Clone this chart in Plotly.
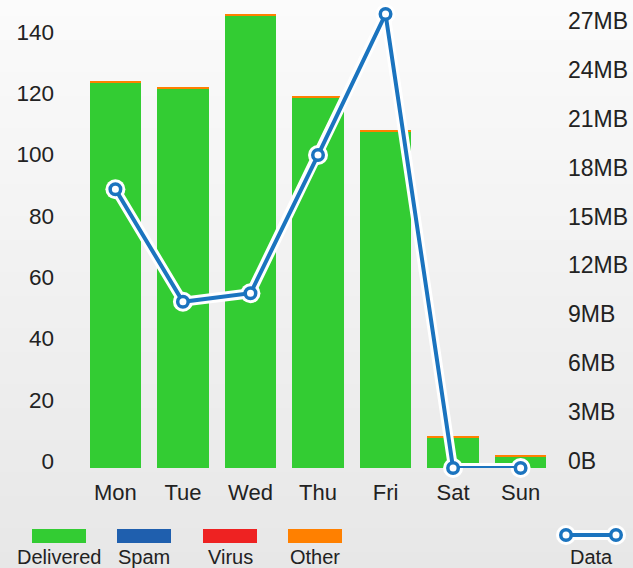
import plotly.graph_objects as go

days = ["Mon", "Tue", "Wed", "Thu", "Fri", "Sat", "Sun"]
delivered = [125.8, 123.8, 147.7, 120.9, 109.8, 10.0, 3.8]
spam = [0, 0, 0, 0, 0, 0, 0]
virus = [0, 0, 0, 0, 0, 0, 0]
other = [0.5, 0.5, 0.5, 0.5, 0.5, 0.5, 0.5]
data_mb = [17.1, 10.2, 10.72, 19.2, 27.85, 0, 0]

left_ticks = [0, 20, 40, 60, 80, 100, 120, 140]
right_ticks = [0, 3, 6, 9, 12, 15, 18, 21, 24, 27]
right_text = ["0B"] + [f"{v}MB" for v in right_ticks[1:]]

legend_names = ["Delivered", "Spam", "Virus", "Other"]
colors = ["#33cc33", "#1f5fae", "#ee2222", "#ff8000"]
line_color = "#1b74bf"

W, H = 633, 568
L, R, T, B = 79, 76, 5, 100
PW, PH = W - L - R, H - T - B


def px(x):
    return (x - L) / PW


def py(y):
    return (H - B - y) / PH


FONT = "Liberation Sans, Arial, sans-serif"
fig = go.Figure()

for name, vals, col in zip(legend_names, [delivered, spam, virus, other], colors):
    fig.add_trace(go.Bar(x=days, y=vals, name=name, marker=dict(color=col, line=dict(width=0)),
                         yaxis="y", showlegend=False))

# white halo
fig.add_trace(go.Scatter(x=days, y=data_mb, yaxis="y2", mode="lines+markers",
                         line=dict(color="white", width=10),
                         marker=dict(size=20, color="white", line=dict(width=0)),
                         cliponaxis=False, showlegend=False, hoverinfo="skip"))
fig.add_trace(go.Scatter(x=days, y=data_mb, yaxis="y2", mode="lines+markers", name="Data",
                         line=dict(color=line_color, width=4),
                         marker=dict(size=10.5, color="white", line=dict(width=3.5, color=line_color)),
                         cliponaxis=False, showlegend=False))

shapes = []
# background gradient
N = 71
for i in range(N):
    y0 = i * H / N
    y1 = (i + 1) * H / N
    t = (i + 0.5) / N
    c = int(round(251 - (251 - 231) * t))
    col = f"rgb({c},{c},{c})"
    shapes.append(dict(type="rect", xref="paper", yref="paper", x0=px(-5), x1=px(W + 5),
                       y0=py(y1 + 0.5), y1=py(y0), fillcolor=col, line=dict(width=0), layer="below"))

annotations = []
# custom legend
centers = [59, 144, 230, 315]
for cx, name, col in zip(centers, legend_names, colors):
    shapes.append(dict(type="rect", xref="paper", yref="paper", x0=px(cx - 27), x1=px(cx + 27),
                       y0=py(543), y1=py(529), fillcolor=col, line=dict(width=0)))
    annotations.append(dict(xref="paper", yref="paper", x=px(cx), y=py(557), text=name,
                            showarrow=False, xanchor="center", yanchor="middle",
                            font=dict(family=FONT, size=20, color="#222")))
# Data legend
shapes.append(dict(type="line", xref="paper", yref="paper", x0=px(566), x1=px(616), y0=py(535), y1=py(535),
                   line=dict(color="white", width=10)))
for cx in (566, 616):
    shapes.append(dict(type="circle", xref="paper", yref="paper", x0=px(cx - 10), x1=px(cx + 10),
                       y0=py(545), y1=py(525), fillcolor="white", line=dict(width=0)))
shapes.append(dict(type="line", xref="paper", yref="paper", x0=px(566), x1=px(616), y0=py(535), y1=py(535),
                   line=dict(color=line_color, width=4)))
for cx in (566, 616):
    shapes.append(dict(type="circle", xref="paper", yref="paper", x0=px(cx - 5.25), x1=px(cx + 5.25),
                       y0=py(540.25), y1=py(529.75), fillcolor="white", line=dict(width=3.5, color=line_color)))
annotations.append(dict(xref="paper", yref="paper", x=px(591), y=py(557), text="Data",
                        showarrow=False, xanchor="center", yanchor="middle",
                        font=dict(family=FONT, size=20, color="#222")))

fig.update_layout(
    width=W, height=H,
    margin=dict(l=L, r=R, t=T, b=B, pad=0, autoexpand=False),
    paper_bgcolor="rgb(240,240,240)",
    plot_bgcolor="rgba(0,0,0,0)",
    barmode="stack",
    bargap=0.235,
    showlegend=False,
    font=dict(family=FONT, size=22, color="#222"),
    xaxis=dict(showgrid=False, zeroline=False, showline=False, ticks="", automargin=False,
               tickfont=dict(size=22, color="#222"), ticklabelstandoff=9),
    yaxis=dict(range=[0, PH / 3.064], tickvals=left_ticks, showgrid=False, zeroline=False,
               showline=False, ticks="", automargin=False, tickfont=dict(size=22.5, color="#222"),
               ticklabelstandoff=24, ticklabelshift=-7),
    yaxis2=dict(range=[0, PH / 16.3], overlaying="y", side="right", tickvals=right_ticks,
                ticktext=right_text, showgrid=False, zeroline=False, showline=False, ticks="",
                automargin=False, tickfont=dict(size=23, color="#222"), ticklabelstandoff=10,
                ticklabelshift=-7),
    shapes=shapes,
    annotations=annotations,
)

fig.write_html("out.html", config={"displayModeBar": False},
               post_script="document.body.style.margin='0';document.body.style.overflow='hidden';")
